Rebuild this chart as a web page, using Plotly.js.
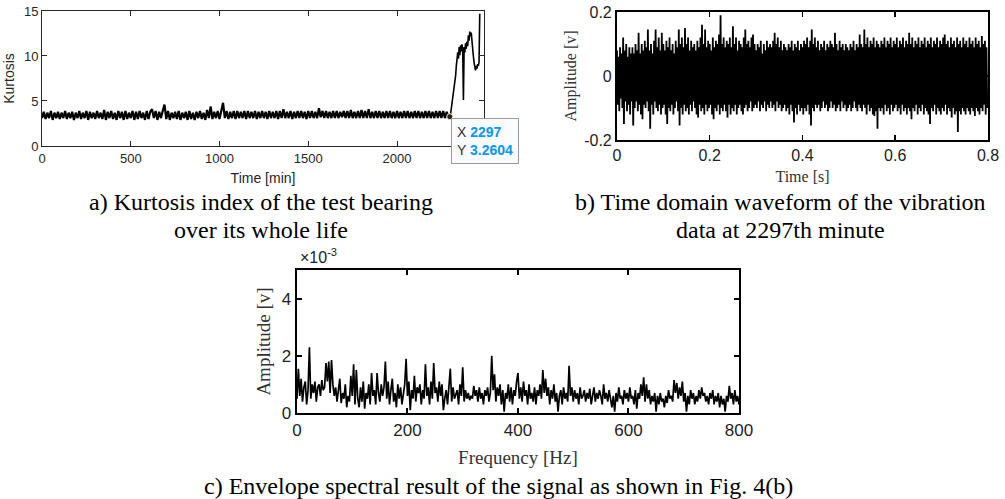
<!DOCTYPE html>
<html>
<head>
<meta charset="utf-8">
<script src="https://cdn.plot.ly/plotly-3.0.1.min.js"></script>
<style>html,body{margin:0;padding:0;background:#fff;}#chart{width:1005px;height:499px;}</style>
</head>
<body>
<div id="chart"></div>
<script>
// ---- (a) Kurtosis over whole life ----
const kurtBandStart = 0, kurtBandStep = 10; // minutes
const kurtBand = [
3.1,3.8,3.0,3.7,3.1,3.9,2.9,3.7,3.1,3.8,3.0,3.7,3.1,3.9,3.0,3.7,3.1,3.8,2.9,3.7,
3.1,3.9,3.0,3.7,3.1,3.9,2.9,3.8,3.1,3.7,3.0,3.9,3.1,3.7,3.0,4.0,2.9,3.8,3.1,3.9,
3.0,3.7,2.9,3.9,3.1,3.8,2.9,3.9,3.0,3.7,3.1,3.9,2.9,3.8,3.0,3.9,3.1,3.7,2.9,3.9,
3.0,3.8,4.1,3.1,3.9,2.9,3.8,3.1,3.9,4.6,3.0,3.9,2.9,3.7,3.1,3.8,3.0,3.9,2.9,3.7,
3.1,3.8,2.9,3.9,3.0,3.7,2.9,3.8,3.1,3.9,3.0,3.7,2.9,4.0,3.1,4.4,3.0,3.8,3.1,3.9,
3.0,3.9,4.8,3.1,3.9,3.0,3.8,3.1,3.9,3.0,3.9,3.1,3.8,3.1,3.9,3.0,3.9,3.1,3.8,3.1,
3.9,3.0,3.8,3.1,3.9,3.1,3.8,3.0,3.9,3.1,3.8,3.1,3.9,3.0,3.9,3.1,4.1,3.1,3.8,3.1,
3.9,3.0,3.8,3.1,3.9,3.1,3.9,3.1,3.8,3.0,3.9,3.1,3.9,3.1,3.8,3.1,4.2,3.2,3.9,3.1,
3.9,3.1,3.8,3.1,3.9,3.1,3.9,3.1,3.8,3.2,3.9,3.1,3.9,3.1,4.0,3.1,3.8,3.1,3.9,3.1,
4.0,3.1,3.9,3.1,4.1,3.1,3.8,3.1,3.9,3.1,3.9,3.1,3.8,3.1,3.9,3.1,3.9,3.1,3.8,3.1,
3.9,3.1,3.8,3.1,3.9,3.1,3.9,3.1,3.8,3.1,3.9,3.1,3.9,3.1,3.8,3.1,3.9,3.1,3.9,3.1,
3.8,3.1,3.9,3.1,3.9,3.1,3.9,3.1,3.8,3.2
];
const kurtFailStart = 2290, kurtFailStep = 4;
const kurtFail = [3.4,3.3,3.26,3.6,4.2,4.8,5.4,5.8,6.4,6.9,7.8,8.9,9.8,10.4,9.7,11.0,10.1,11.2,10.5,11.3,
10.6,5.1,11.0,10.4,11.4,10.8,11.6,11.1,12.3,11.7,12.7,12.2,12.6,11.4,10.7,10.0,9.3,8.8,8.4,8.9,
8.6,9.1,8.9,9.3,14.7];
const tipX = [2297], tipY = [3.2604];
const kurtXTicks = [0,500,1000,1500,2000];
const kurtYTicks = [0,5,10,15];

// ---- (b) Time-domain waveform at 2297th minute ----
const waveStart = 0, waveStep = 0.8/480; // s
const waveAmp = [
.08,-.09,.06,-.11,.09,-.07,.07,-.1,.12,-.15,.08,-.08,.1,-.11,.06,-.09,.09,-.12,.07,-.08,
.09,-.155,.07,-.1,.1,-.08,.08,-.11,.135,-.09,.07,-.12,.1,-.135,.08,-.09,.11,-.1,.09,-.08,
.145,-.11,.08,-.165,.1,-.09,.07,-.12,.11,-.08,.145,-.1,.09,-.11,.12,-.09,.08,-.12,.135,-.1,
.1,-.09,.08,-.12,.11,-.15,.09,-.1,.12,-.11,.08,-.09,.1,-.12,.07,-.1,.11,-.08,.09,-.11,
.145,-.155,.1,-.1,.12,-.12,.09,-.09,.15,-.11,.1,-.1,.12,-.12,.08,-.09,.11,-.11,.09,-.08,
.1,-.1,.08,-.12,.11,-.13,.09,-.09,.12,-.11,.16,-.1,.1,-.12,.145,-.09,.09,-.11,.11,-.1,
.1,-.09,.08,-.12,.12,-.135,.09,-.1,.11,-.11,.1,-.09,.13,-.12,.19,-.1,.1,-.11,.12,-.09,
.09,-.11,.11,-.13,.1,-.09,.12,-.12,.09,-.1,.155,-.11,.1,-.09,.12,-.12,.08,-.1,.11,-.09,
.1,-.11,.09,-.12,.12,-.1,.145,-.09,.1,-.11,.11,-.1,.09,-.08,.12,-.11,.13,-.1,.1,-.09,
.08,-.1,.1,-.08,.09,-.11,.11,-.09,.07,-.1,.1,-.08,.08,-.11,.11,-.09,.09,-.1,.1,-.08,
.09,-.1,.11,-.09,.135,-.11,.1,-.08,.12,-.1,.09,-.09,.11,-.11,.08,-.1,.1,-.09,.09,-.11,
.08,-.1,.1,-.12,.09,-.09,.11,-.11,.08,-.145,.1,-.1,.09,-.12,.11,-.09,.08,-.11,.1,-.1,
.09,-.12,.11,-.1,.1,-.11,.12,-.09,.09,-.12,.11,-.155,.145,-.1,.1,-.11,.12,-.09,.09,-.1,
.11,-.09,.08,-.11,.1,-.1,.09,-.08,.11,-.1,.08,-.09,.1,-.11,.09,-.1,.11,-.08,.1,-.1,
.09,-.09,.135,-.11,.1,-.1,.08,-.09,.11,-.11,.09,-.08,.1,-.1,.08,-.09,.1,-.11,.09,-.1,
.08,-.09,.1,-.11,.09,-.1,.11,-.08,.08,-.1,.1,-.11,.09,-.09,.13,-.1,.1,-.11,.09,-.09,
.145,-.1,.1,-.12,.12,-.09,.09,-.11,.11,-.1,.1,-.12,.12,-.125,.09,-.11,.11,-.165,.1,-.1,
.09,-.11,.11,-.1,.1,-.12,.12,-.09,.09,-.11,.11,-.1,.1,-.12,.12,-.09,.09,-.11,.11,-.1,
.1,-.09,.12,-.11,.09,-.1,.11,-.12,.1,-.09,.12,-.11,.09,-.1,.11,-.12,.1,-.1,.135,-.11,
.1,-.135,.12,-.1,.09,-.11,.11,-.09,.1,-.12,.12,-.1,.09,-.11,.11,-.09,.1,-.12,.12,-.1,
.09,-.11,.11,-.12,.1,-.15,.12,-.1,.09,-.11,.11,-.09,.1,-.12,.12,-.1,.09,-.11,.11,-.12,
.1,-.1,.12,-.11,.13,-.09,.1,-.12,.11,-.1,.09,-.11,.12,-.13,.1,-.1,.11,-.12,.09,-.11,
.12,-.175,.1,-.11,.11,-.12,.09,-.1,.12,-.11,.1,-.12,.11,-.1,.09,-.11,.12,-.12,.1,-.1,
.11,-.11,.09,-.125,.12,-.1,.1,-.11,.11,-.12,.09,-.1,.125,-.11,.1,-.09,.11,-.12,.09,-.1
];
const waveXTicks = [0,0.2,0.4,0.6,0.8];
const waveYTicks = [-0.2,0,0.2];
const waveYTickText = ['-0.2','0','0.2'];

// ---- (c) Envelope spectrum (amplitude in units of 1e-3 V) ----
const specStart = 0, specStep = 2.5; // Hz
const specAmpE3 = [
0.5,1.55,0.6,1.2,0.4,0.9,1.1,0.3,0.8,2.3,0.5,1.0,0.7,1.1,0.4,0.9,1.0,0.6,1.15,0.8,
0.9,1.75,1.1,1.8,0.7,1.85,1.0,0.6,0.9,0.4,0.8,1.2,0.35,0.7,0.5,1.0,0.2,0.6,0.4,1.3,
0.6,1.7,0.3,1.5,0.5,0.2,0.9,0.4,1.1,0.15,0.7,0.5,1.0,0.3,1.4,0.6,0.8,0.3,1.4,0.7,
0.4,1.0,0.6,0.9,1.8,0.5,1.1,0.3,0.8,1.2,0.4,0.7,0.2,1.0,0.5,0.9,0.3,0.6,1.0,1.9,
0.6,1.1,0.1,0.8,0.5,1.3,0.4,0.9,0.7,1.0,0.3,0.8,0.5,1.7,0.6,0.9,0.3,1.1,0.5,1.75,
0.7,0.9,0.4,1.1,0.6,1.0,0.1,0.5,0.8,0.3,1.0,1.55,0.4,0.9,0.5,0.7,0.8,0.3,1.0,0.6,
1.6,0.4,0.8,0.5,0.7,0.45,0.6,0.5,0.95,0.6,0.8,0.4,0.9,0.5,0.7,0.3,0.8,0.6,0.9,0.4,
0.7,2.0,0.8,1.35,0.4,0.9,0.6,1.0,0.3,0.8,0.05,0.7,0.5,1.0,0.4,0.9,0.3,0.8,0.6,1.1,
1.4,0.5,0.9,0.4,1.1,0.6,0.8,0.3,1.0,0.5,0.7,0.4,0.9,0.3,0.8,0.6,1.0,0.5,1.5,0.7,
1.2,0.6,0.9,0.3,0.8,0.5,1.0,0.4,0.7,0.05,0.6,0.8,0.3,0.9,0.5,0.7,0.4,1.65,0.6,0.9,
0.4,0.8,0.5,0.7,0.3,0.9,0.5,0.6,0.8,0.4,0.7,0.5,0.85,0.3,0.6,0.9,0.4,0.7,0.5,0.8,
0.6,0.3,1.0,0.5,0.7,0.4,0.8,0.5,0.2,0.6,0.05,0.7,0.4,0.9,0.5,0.6,0.3,0.8,0.5,0.7,
0.4,0.9,0.5,0.6,0.3,0.8,0.15,0.7,0.5,1.0,0.6,1.25,0.4,1.0,0.5,0.8,0.3,0.6,0.4,0.7,
0.05,0.6,0.3,0.7,0.4,0.5,0.2,0.6,0.35,0.8,0.5,0.6,0.4,1.15,0.7,1.05,0.5,0.9,0.6,1.1,
0.4,0.7,0.05,0.6,0.3,0.8,0.5,0.7,0.3,0.6,0.4,0.8,0.5,0.9,0.6,0.7,0.4,0.6,0.3,0.7,
0.5,0.8,0.3,0.6,0.4,0.7,0.2,0.6,0.3,0.5,0.05,0.6,0.4,0.95,0.5,0.7,0.3,0.8,0.4,0.6,
0.3
];
const specXTicks = [0,200,400,600,800];
const specYTicks = [0,2,4];

// ---- captions (one entry per printed line) ----
const captionA = ['a) Kurtosis index of the test bearing', 'over its whole life'];
const captionB = ['b) Time domain waveform of the vibration', 'data at 2297th minute'];
const captionC = ['c) Envelope spectral result of the signal as shown in Fig. 4(b)'];

const SANS = 'Liberation Sans, Arial, sans-serif';
const SERIF = 'Liberation Serif, Times New Roman, serif';

const traces = [
  {type:'scatter', mode:'lines', x0:kurtBandStart, dx:kurtBandStep, y:kurtBand,
   line:{color:'#000', width:2.2}, xaxis:'x', yaxis:'y', hoverinfo:'skip'},
  {type:'scatter', mode:'lines', x0:kurtFailStart, dx:kurtFailStep, y:kurtFail,
   line:{color:'#000', width:1.6}, xaxis:'x', yaxis:'y', hoverinfo:'skip'},
  {type:'scatter', mode:'markers', x:tipX, y:tipY,
   marker:{color:'#222', size:6, line:{color:'#f2eec0', width:1}}, xaxis:'x', yaxis:'y', hoverinfo:'skip'},
  {type:'scatter', mode:'lines', x0:waveStart, dx:waveStep, y:waveAmp,
   line:{color:'#000', width:1.8}, xaxis:'x2', yaxis:'y2', hoverinfo:'skip'},
  {type:'scatter', mode:'lines', x0:specStart, dx:specStep, y:specAmpE3,
   line:{color:'#000', width:1.7}, xaxis:'x3', yaxis:'y3', hoverinfo:'skip'}
];

function ax(o){
  return Object.assign({showgrid:false, zeroline:false, showline:true, mirror:'ticks',
    ticks:'inside', ticklen:5, automargin:false, fixedrange:true}, o);
}

function caption(text, cx, cy){
  return {xref:'paper', yref:'paper', x:cx/1005, y:1-cy/499, xanchor:'center', yanchor:'middle',
    showarrow:false, text:text, font:{family:SERIF, size:24, color:'#000'}};
}

const layout = {
  width:1005, height:499, margin:{l:0,r:0,t:0,b:0},
  paper_bgcolor:'#fff', plot_bgcolor:'#fff', showlegend:false,
  xaxis: ax({domain:[0.0418,0.4816], anchor:'y', range:[0,2490], tickvals:kurtXTicks,
    linecolor:'#262626', linewidth:1, tickcolor:'#262626', tickwidth:1,
    tickfont:{family:SANS, size:13, color:'#262626'},
    title:{text:'Time [min]', font:{family:SANS, size:14, color:'#262626'}, standoff:8}}),
  yaxis: ax({domain:[0.7074,0.978], anchor:'x', range:[0,15], tickvals:kurtYTicks,
    linecolor:'#262626', linewidth:1, tickcolor:'#262626', tickwidth:1,
    tickfont:{family:SANS, size:13, color:'#262626'},
    title:{text:'Kurtosis', font:{family:SANS, size:14, color:'#262626'}, standoff:6}}),
  xaxis2: ax({domain:[0.6139,0.9831], anchor:'y2', range:[0,0.8], tickvals:waveXTicks,
    linecolor:'#000', linewidth:2, tickcolor:'#000', tickwidth:1.5,
    tickfont:{family:SANS, size:16, color:'#222'},
    title:{text:'Time [s]', font:{family:SERIF, size:16, color:'#333'}, standoff:8}}),
  yaxis2: ax({domain:[0.7194,0.976], anchor:'x2', range:[-0.2,0.2], tickvals:waveYTicks, ticktext:waveYTickText,
    linecolor:'#000', linewidth:2, tickcolor:'#000', tickwidth:1.5,
    tickfont:{family:SANS, size:16, color:'#222'},
    title:{text:'Amplitude [v]', font:{family:SERIF, size:16, color:'#333'}, standoff:4}}),
  xaxis3: ax({domain:[0.2955,0.7353], anchor:'y3', range:[0,800], tickvals:specXTicks,
    linecolor:'#000', linewidth:2.3, tickcolor:'#000', tickwidth:2,
    tickfont:{family:SANS, size:17, color:'#222'},
    title:{text:'Frequency [Hz]', font:{family:SERIF, size:19, color:'#333'}, standoff:12}}),
  yaxis3: ax({domain:[0.1723,0.4589], anchor:'x3', range:[0,5], tickvals:specYTicks,
    linecolor:'#000', linewidth:2.3, tickcolor:'#000', tickwidth:2,
    tickfont:{family:SANS, size:17, color:'#222'},
    title:{text:'Amplitude [v]', font:{family:SERIF, size:19, color:'#333'}, standoff:6}}),
  annotations: [
    {xref:'x', yref:'y', x:tipX[0], y:tipY[0], xanchor:'left', yanchor:'top', xshift:1, yshift:-1,
     showarrow:false, align:'left',
     text:'X <b><span style="color:#0a96f5">2297</span></b><br>Y <b><span style="color:#0a96f5">3.2604</span></b>',
     font:{family:SANS, size:14, color:'#333'}, bgcolor:'#fbfcff', bordercolor:'#9a9a9a', borderwidth:1, borderpad:5},
    caption(captionA[0], 261, 202),
    caption(captionA[1], 261, 230),
    caption(captionB[0], 780, 202),
    caption(captionB[1], 780, 230),
    caption(captionC[0], 498, 486),
    {xref:'paper', yref:'paper', x:298/1005, y:1-268/499, xanchor:'left', yanchor:'bottom', showarrow:false,
     text:'×10<sup>-3</sup>', font:{family:SANS, size:16, color:'#222'}}
  ]
};

Plotly.newPlot('chart', traces, layout, {staticPlot:true, displayModeBar:false});
</script>
</body>
</html>
